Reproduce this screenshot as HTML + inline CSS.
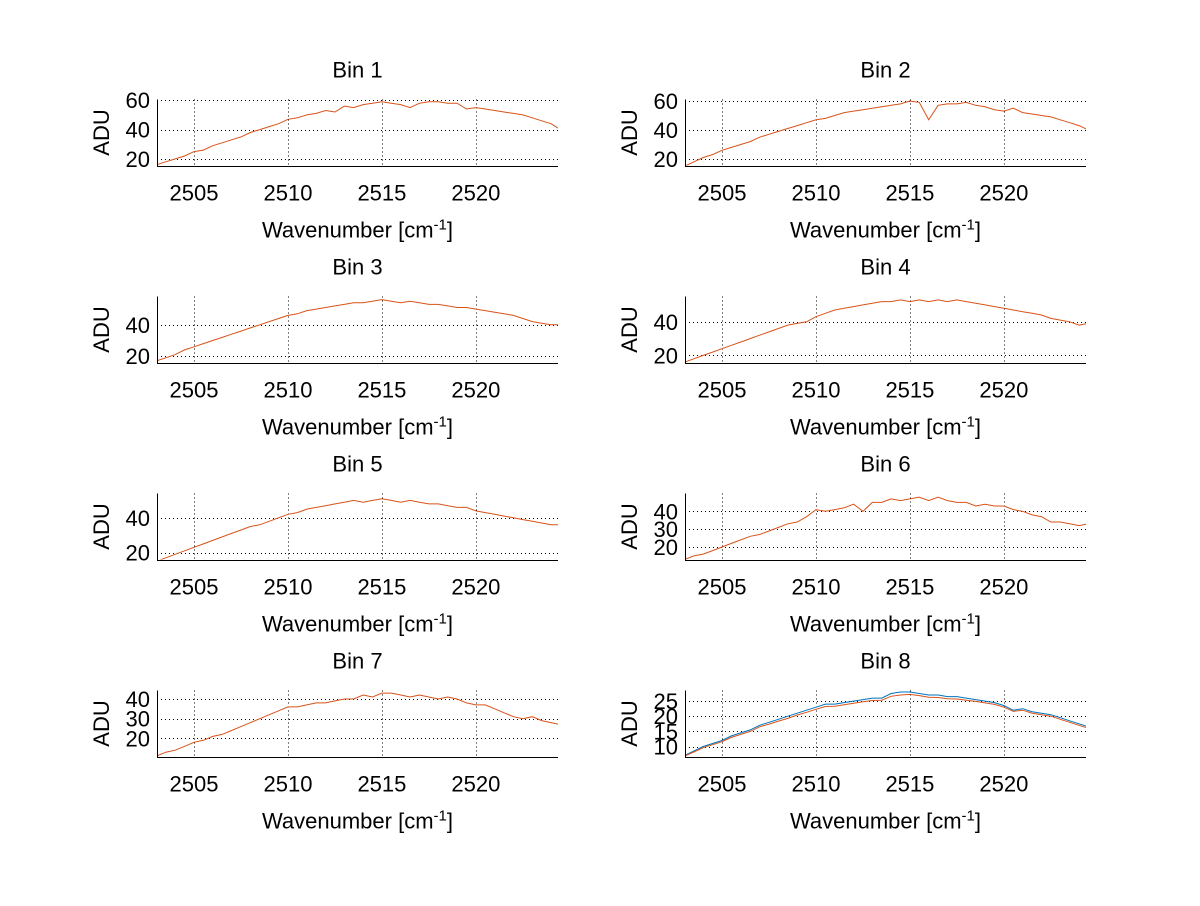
<!DOCTYPE html>
<html><head><meta charset="utf-8"><style>
body{margin:0;background:#fff;}
svg text{font-family:"Liberation Sans",sans-serif;fill:#000;}
</style></head><body>
<svg id="fig" width="1200" height="901" viewBox="0 0 1200 901" xmlns="http://www.w3.org/2000/svg"></svg>
<script>
const xStart = 2503, xStep = 0.5;
const xTicks = [2505, 2510, 2515, 2520];
const binTitles = ["Bin 1","Bin 2","Bin 3","Bin 4","Bin 5","Bin 6","Bin 7","Bin 8"];
const yLims = [[15.5,60.5],[15.5,61],[16,58],[15.8,55],[16,54],[13,50],[10.8,44.3],[6.7,28.5]];
const yTicks = [[20,40,60],[20,40,60],[20,40],[20,40],[20,40],[20,30,40],[20,30,40],[10,15,20,25]];
const bin1 = [16,18,20,22,25,26,29,31,33,35,38,40,42,44,47,48,50,51,53,52,56,55,57,58,59,58,57,55,58,59,59,58,58,54,55,54,53,52,51,50,48,46,44,40];
const bin2 = [15,18,21,23,26,28,30,32,35,37,39,41,43,45,47,48,50,52,53,54,55,56,57,58,60,59,47,57,58,58,59,57,56,54,53,55,52,51,50,49,47,45,43,40];
const bin3 = [17,19,21,24,26,28,30,32,34,36,38,40,42,44,46,47,49,50,51,52,53,54,54,55,56,55,54,55,54,53,53,52,51,51,50,49,48,47,46,44,42,41,40,40];
const bin4 = [16,18,20,22,24,26,28,30,32,34,36,38,39,40,43,45,47,48,49,50,51,52,52,53,52,53,52,53,52,53,52,51,50,49,48,47,46,45,44,42,41,40,38,39];
const bin5 = [15,17,19,21,23,25,27,29,31,33,35,36,38,40,42,43,45,46,47,48,49,50,49,50,51,50,49,50,49,48,48,47,46,46,44,43,42,41,40,39,38,37,36,36];
const bin6 = [13,15,16,18,20,22,24,26,27,29,31,33,34,37,41,40,41,42,44,40,45,45,47,46,47,48,46,48,46,45,45,43,44,43,43,41,40,38,37,34,34,33,32,33];
const bin7 = [11,13,14,16,18,19,21,22,24,26,28,30,32,34,36,36,37,38,38,39,40,40,42,41,43,43,42,41,42,41,40,41,40,38,37,37,35,33,31,30,31,29,28,27];
const bin8Blue = [7,8.5,10,11,12,13.5,14.5,15.5,17,18,19,20,21,22,23,24,24,24.5,25,25.5,26,26,27.5,28,28,27.5,27,27,26.5,26.5,26,25.5,25,24.5,23.5,22,22.5,21.5,21,20.5,19.5,18.5,17.5,16.5];
const bin8Orange = [6.8,8.2,9.6,10.6,11.6,13,14,15,16.5,17.4,18.4,19.3,20.4,21.3,22.3,23.2,23.3,23.8,24.3,24.8,25.2,25.3,26.6,27,27.2,26.8,26.3,26.2,25.8,25.7,25.3,24.9,24.4,23.9,23,21.6,22,21,20.5,20,19,18,17,16];
const seriesByBin = [[bin1],[bin2],[bin3],[bin4],[bin5],[bin6],[bin7],[bin8Blue,bin8Orange]];

const NS="http://www.w3.org/2000/svg";
const svg=document.getElementById('fig');
function mk(tag,attrs,parent){const e=document.createElementNS(NS,tag);for(const k in attrs)e.setAttribute(k,attrs[k]);(parent||svg).appendChild(e);return e;}
const colLeft=[157,685], axW=401, rowTop=[99.5,296.5,493.5,690.5], axH=66;
const xMin=2503.03, xMax=2524.37;
const px=v=>Math.round(v)+0.5;
for(let b=0;b<8;b++){
  const L=colLeft[b%2], T=rowTop[Math.floor(b/2)], B=T+axH, R=L+axW;
  const [y0,y1]=yLims[b];
  const xs=v=>L+(v-xMin)/(xMax-xMin)*axW;
  const ys=v=>B-(v-y0)/(y1-y0)*axH;
  const g=mk('g',{});
  
  
  const cp=mk('clipPath',{id:'c'+b},g); mk('rect',{x:L,y:T,width:axW,height:axH},cp);
  xTicks.forEach(t=>{
    const l=mk('line',{x1:px(xs(t)),x2:px(xs(t)),y1:T,y2:B,stroke:'#000','stroke-width':1,'stroke-dasharray':'1,3','shape-rendering':'crispEdges'},g);
    
    
    const tx=mk('text',{x:xs(t),y:B+35,'font-size':22,'text-anchor':'middle'},g);
    tx.textContent=t;
    
    
  });
  yTicks[b].forEach(t=>{
    const l=mk('line',{x1:L,x2:R,y1:px(ys(t)),y2:px(ys(t)),stroke:'#000','stroke-width':1,'stroke-dasharray':'1,3','shape-rendering':'crispEdges'},g);
    
    
    const tx=mk('text',{x:L-7,y:ys(t)+8,'font-size':22,'text-anchor':'end'},g);
    tx.textContent=t;
    
    
  });
  const colors=seriesByBin[b].length>1?['#0072bd','#d95319']:['#d95319'];
  seriesByBin[b].forEach((arr,i)=>{
    const pts=arr.map((v,j)=>xs(xStart+j*xStep).toFixed(1)+','+ys(v).toFixed(1)).join(' ');
    const p=mk('polyline',{points:pts,fill:'none',stroke:colors[i],'stroke-width':1,'clip-path':'url(#c'+b+')'},g);
    
    
  });
  const ax=mk('path',{d:`M${L+0.5},${T}V${px(B)}H${R}`,fill:'none',stroke:'#000','stroke-width':1,'shape-rendering':'crispEdges'},g);
  
  
  const ti=mk('text',{x:L+axW/2,y:T-22,'font-size':22,'text-anchor':'middle'},g);
  ti.textContent=binTitles[b];
  
  
  const yl=mk('text',{x:0,y:0,'font-size':22,'text-anchor':'middle',transform:`translate(${L-48},${T+axH/2}) rotate(-90)`},g);
  yl.textContent='ADU';
  
  
  const xl=mk('text',{x:L+axW/2,y:B+72,'font-size':22,'text-anchor':'middle'},g);
  xl.innerHTML='Wavenumber [cm<tspan dy="-8" font-size="15">-1</tspan><tspan dy="8">]</tspan>';
  
  
}
</script>
</body></html>
